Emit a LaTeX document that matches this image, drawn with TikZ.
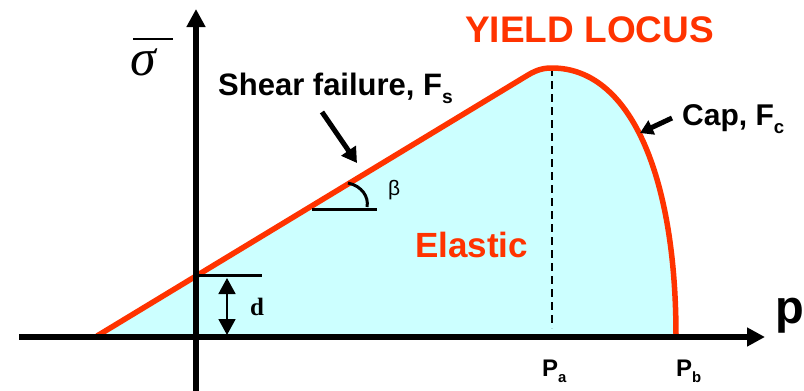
\documentclass[tikz,border=0pt]{standalone}
\usepackage{fontspec}
\setmainfont{Liberation Sans}
\newfontfamily\serifont{Liberation Serif}
\usetikzlibrary{arrows.meta}
\definecolor{locus}{HTML}{FF3300}
\definecolor{elasticfill}{HTML}{CCFFFF}
\newcommand{\lowsub}[1]{\raisebox{-0.27em}{\scalebox{0.62}{#1}}}
\begin{document}
\begin{tikzpicture}[x=1pt,y=-1pt,
  axisline/.style={line width=5.5pt,-{Triangle[length=18pt,width=18pt]}},
  redline/.style={draw=locus,line width=5.5pt,line join=round},
  thinblack/.style={line width=3pt},
  pointer/.style={line width=5pt,-{Triangle[length=15pt,width=17pt]}},
  lbl/.style={inner sep=0pt,anchor=base west,font=\bfseries\fontsize{#1}{#1}\selectfont},
  redlbl/.style={lbl=#1,text=locus}
]
\useasboundingbox (0,0) rectangle (804,391);

% region
\fill[elasticfill] (97,336) -- (528,75) .. controls (538,69) and (545,68) .. (552,68)
   .. controls (630,68) and (676,175) .. (676,336) -- cycle;

% named points
\coordinate (xo) at (19,337);
\coordinate (xe) at (765,337);
\coordinate (yo) at (196,391);
\coordinate (ye) at (196,9);
\coordinate (s0) at (97,336);
\coordinate (s1) at (528,75);
\coordinate (top) at (552,68);
\coordinate (cb) at (676,336);
\coordinate (dashbot) at (552,328);
\coordinate (dl) at (196,275);
\coordinate (dr) at (262,275);
\coordinate (da) at (227,278);
\coordinate (db) at (227,335);
\coordinate (bl) at (312,209);
\coordinate (br) at (377,209);
\coordinate (ba) at (348,183);
\coordinate (bb) at (367,207);
\coordinate (sa) at (322,112);
\coordinate (sb) at (357,163);
\coordinate (ca) at (672,118);
\coordinate (cbt) at (640,133);

% dashed line
\draw[line width=2pt,dash pattern=on 8pt off 5pt] (top) -- (dashbot);

% yield locus
\draw[redline] (s0) -- (s1) .. controls (538,69) and (545,68) .. (top)
   .. controls (630,68) and (676,175) .. (cb);

% d marker
\draw[thinblack] (dl) -- (dr);
\draw[line width=1.8pt,{Triangle[length=16pt,width=17pt]}-{Triangle[length=16pt,width=17pt]}] (da) -- (db);

% beta marker
\draw[thinblack] (bl) -- (br);
\draw[line width=3pt] (ba) .. controls (362,186) and (369,197) .. (bb);

% axes
\draw[axisline] (xo) -- (xe);
\draw[axisline] (yo) -- (ye);

% pointers
\draw[pointer] (sa) -- (sb);
\draw[pointer,-{Triangle[length=13pt,width=15pt]}] (ca) -- (cbt);

% labels
\node[redlbl=37pt] (yl) at (465,42) {YIELD LOCUS};
\node[redlbl=35pt] (el) at (415,257) {Elastic};
\node[lbl=31pt] (sf) at (218,95) {Shear failure, F\lowsub{s}};
\node[lbl=30pt] (cap) at (682,125) {Cap, F\lowsub{c}};
\node[lbl=24pt] (pa) at (542,376) {P\lowsub{a}};
\node[lbl=24pt] (pb) at (676,376) {P\lowsub{b}};
\node[lbl=47pt,anchor=base east] (p) at (804,323) {p};
\node[inner sep=0pt,anchor=base west,font=\serifont\bfseries\fontsize{25pt}{25pt}\selectfont] (d) at (250,315) {d};
\node[inner sep=0pt,anchor=base west,font=\fontsize{21pt}{21pt}\selectfont] (beta) at (388,195) {β};
\node[inner sep=0pt,anchor=base west,font=\serifont\itshape\fontsize{52pt}{52pt}\selectfont] (sig) at (130,75) {σ};
\draw[line width=2pt] (133,39) -- (173,39);
\end{tikzpicture}
\end{document}
